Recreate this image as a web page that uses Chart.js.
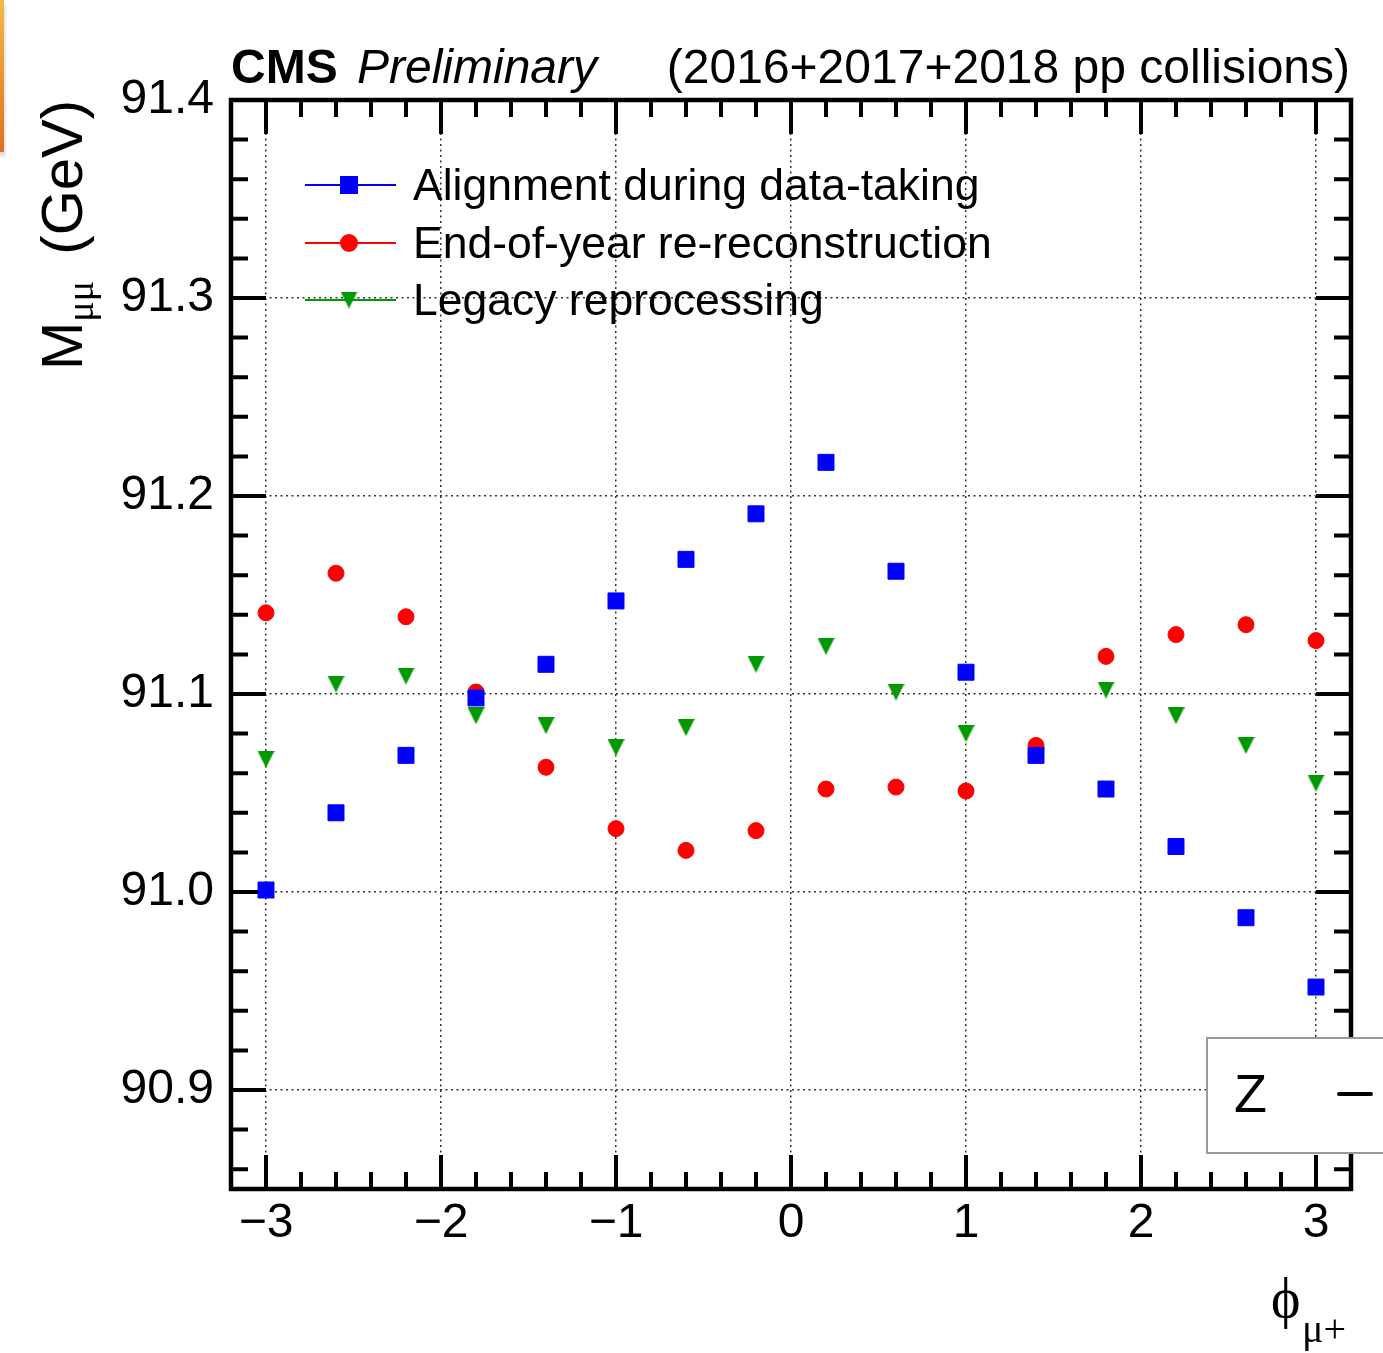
<!DOCTYPE html>
<html>
<head>
<meta charset="utf-8">
<title>Z mass vs phi</title>
<script src="https://cdn.jsdelivr.net/npm/chart.js@4.4.1/dist/chart.umd.min.js"></script>
<style>
  html, body { margin: 0; padding: 0; background: #fff; }
  #wrap { position: relative; width: 1383px; height: 1353px; }
  #massChart { display: block; }
  #edge {
    position: absolute; left: 0; top: 0; width: 4px; height: 152px;
    background: linear-gradient(#f3b94a, #e2701f);
    box-shadow: 0 4px 4px rgba(0, 0, 0, 0.25);
  }
</style>
</head>
<body>
<div id="wrap">
  <canvas id="massChart" width="1383" height="1353"></canvas>
  <div id="edge"></div>
</div>
<script>
// phi of the mu+ (bin centres) and fitted dimuon mass per reconstruction
const phiBins = [-3, -2.6, -2.2, -1.8, -1.4, -1, -0.6, -0.2, 0.2, 0.6, 1, 1.4, 1.8, 2.2, 2.6, 3];
const alignmentDataTaking = [91.001, 91.040, 91.069, 91.098, 91.115, 91.147, 91.168, 91.191,
                             91.217, 91.162, 91.111, 91.069, 91.052, 91.023, 90.987, 90.952];
const endOfYearReReco = [91.141, 91.161, 91.139, 91.101, 91.063, 91.032, 91.021, 91.031,
                         91.052, 91.053, 91.051, 91.074, 91.119, 91.130, 91.135, 91.127];
const legacyReprocessing = [91.067, 91.105, 91.109, 91.089, 91.084, 91.073, 91.083, 91.115,
                            91.124, 91.101, 91.080, 91.069, 91.102, 91.089, 91.074, 91.055];

const seriesLabels = ['Alignment during data-taking', 'End-of-year re-reconstruction', 'Legacy reprocessing'];

const xTickValues = [-3, -2, -1, 0, 1, 2, 3];
const xTickLabels = ['\u22123', '\u22122', '\u22121', '0', '1', '2', '3'];
const yTickValues = [90.9, 91.0, 91.1, 91.2, 91.3, 91.4];
const yTickLabels = ['90.9', '91.0', '91.1', '91.2', '91.3', '91.4'];

const SANS = '"Liberation Sans", Arial, Helvetica, sans-serif';
const SERIF = '"Liberation Serif", "DejaVu Serif", "Times New Roman", serif';

// ROOT-style downward triangle (width == height, centred on the point)
function triangleDown(size, color) {
    const c = document.createElement('canvas');
    c.width = size; c.height = size;
    const g = c.getContext('2d');
    g.fillStyle = color;
    g.beginPath();
    g.moveTo(0, 0);
    g.lineTo(size, 0);
    g.lineTo(size / 2, size);
    g.closePath();
    g.fill();
    return c;
}

const toPoints = (vals) => phiBins.map((x, i) => ({ x: x, y: vals[i] }));

// frame with inward ticks on all four sides
const rootFrame = {
    id: 'rootFrame',
    beforeDatasetsDraw(chart) {
        const { ctx, chartArea: a, scales: { x, y } } = chart;
        ctx.save();
        ctx.strokeStyle = '#000';
        ctx.lineWidth = 4;
        ctx.beginPath();
        for (let k = -16; k <= 16; k++) {
            const px = x.getPixelForValue(k / 5);
            if (px <= a.left + 2 || px >= a.right - 2) continue;
            const len = k % 5 === 0 ? 34 : 17;
            ctx.moveTo(px, a.bottom); ctx.lineTo(px, a.bottom - len);
            ctx.moveTo(px, a.top); ctx.lineTo(px, a.top + len);
        }
        for (let k = 4543; k <= 4570; k++) {
            const py = y.getPixelForValue(k / 50);
            if (py <= a.top + 2 || py >= a.bottom - 2) continue;
            const len = k % 5 === 0 ? 35 : 17;
            ctx.moveTo(a.left, py); ctx.lineTo(a.left + len, py);
            ctx.moveTo(a.right, py); ctx.lineTo(a.right - len, py);
        }
        ctx.stroke();
        ctx.lineWidth = 4.5;
        ctx.strokeRect(a.left, a.top, a.right - a.left, a.bottom - a.top);
        ctx.restore();
    }
};

// legend, titles and the clipped label box
const decorations = {
    id: 'decorations',
    afterDraw(chart) {
        const ctx = chart.ctx;
        ctx.save();

        // legend
        const rows = [185, 243, 300];
        chart.data.datasets.forEach((ds, i) => {
            const yy = rows[i];
            ctx.strokeStyle = ds.borderColor;
            ctx.lineWidth = 2;
            ctx.beginPath();
            ctx.moveTo(305, yy); ctx.lineTo(396, yy);
            ctx.stroke();
            ctx.fillStyle = ds.backgroundColor;
            ctx.strokeStyle = ds.borderColor;
            Chart.helpers.drawPoint(ctx, {
                pointStyle: ds.pointStyle, radius: ds.pointRadius,
                rotation: 0, borderWidth: ds.pointBorderWidth
            }, 349, yy);
            ctx.fillStyle = '#000';
            ctx.font = '44.5px ' + SANS;
            ctx.textAlign = 'left';
            ctx.textBaseline = 'alphabetic';
            ctx.fillText(ds.label, 413, yy + 15);
        });

        // header
        ctx.fillStyle = '#000';
        ctx.textBaseline = 'alphabetic';
        ctx.textAlign = 'left';
        ctx.font = 'bold 48px ' + SANS;
        ctx.fillText('CMS', 231, 83);
        ctx.font = 'italic 48px ' + SANS;
        ctx.fillText('Preliminary', 357, 83);
        ctx.textAlign = 'right';
        ctx.font = '48px ' + SANS;
        ctx.fillText('(2016+2017+2018 pp collisions)', 1350, 83);

        // y title, rotated
        ctx.save();
        ctx.translate(82, 370);
        ctx.rotate(-Math.PI / 2);
        ctx.textAlign = 'left';
        ctx.font = '58px ' + SANS;
        ctx.fillText('M', 0, 0);
        const mW = ctx.measureText('M').width;
        ctx.font = '38px ' + SERIF;
        ctx.fillText('\u03bc\u03bc', mW, 11);
        ctx.font = '58px ' + SANS;
        ctx.textAlign = 'right';
        ctx.fillText('(GeV)', 270, 0);
        ctx.restore();

        // x title
        ctx.textAlign = 'left';
        ctx.font = '56px ' + SERIF;
        ctx.fillText('\u03d5', 1271, 1317);
        ctx.font = '40px ' + SERIF;
        ctx.fillText('\u03bc+', 1302, 1342);

        // label box cut by the right border
        ctx.fillStyle = '#fff';
        ctx.fillRect(1207, 1038, 200, 115);
        ctx.strokeStyle = '#999';
        ctx.lineWidth = 2;
        ctx.strokeRect(1207, 1038, 200, 115);
        ctx.fillStyle = '#000';
        ctx.font = '54px ' + SANS;
        ctx.fillText('Z', 1234, 1112);
        ctx.strokeStyle = '#000';
        ctx.lineWidth = 4;
        ctx.lineCap = 'round';
        ctx.beginPath();
        ctx.moveTo(1339, 1094); ctx.lineTo(1371, 1094);
        ctx.stroke();

        ctx.restore();
    }
};

document.addEventListener('DOMContentLoaded', () => {
    const ctx = document.getElementById('massChart').getContext('2d');
    new Chart(ctx, {
        type: 'scatter',
        data: {
            datasets: [
                {
                    label: seriesLabels[0],
                    data: toPoints(alignmentDataTaking),
                    pointStyle: 'rect',
                    pointRadius: 11.3,
                    pointBorderWidth: 1,
                    borderColor: '#0000ff',
                    backgroundColor: '#0000ff'
                },
                {
                    label: seriesLabels[1],
                    data: toPoints(endOfYearReReco),
                    pointStyle: 'circle',
                    pointRadius: 8,
                    pointBorderWidth: 1,
                    borderColor: '#ff0000',
                    backgroundColor: '#ff0000'
                },
                {
                    label: seriesLabels[2],
                    data: toPoints(legacyReprocessing),
                    pointStyle: triangleDown(17, '#009900'),
                    pointRadius: 8.5,
                    pointBorderWidth: 0,
                    borderColor: '#009900',
                    backgroundColor: '#009900'
                }
            ]
        },
        options: {
            responsive: false,
            animation: false,
            layout: { padding: { top: 100, right: 32, left: 0, bottom: 0 } },
            plugins: {
                legend: { display: false },
                tooltip: { enabled: false }
            },
            scales: {
                x: {
                    type: 'linear',
                    min: -3.2,
                    max: 3.2,
                    afterBuildTicks: (s) => { s.ticks = xTickValues.map(v => ({ value: v })); },
                    afterFit: (s) => { s.height = 164; },
                    ticks: {
                        callback: (v, i) => xTickLabels[i],
                        color: '#000',
                        font: { family: SANS, size: 48 },
                        padding: 6,
                        maxRotation: 0,
                        autoSkip: false
                    },
                    grid: { color: '#333', lineWidth: 1.5, drawTicks: false },
                    border: { display: false, dash: [2, 3.5] }
                },
                y: {
                    type: 'linear',
                    min: 90.85,
                    max: 91.4,
                    afterBuildTicks: (s) => { s.ticks = yTickValues.map(v => ({ value: v })); },
                    afterFit: (s) => { s.width = 231; },
                    ticks: {
                        callback: (v, i) => yTickLabels[i],
                        color: '#000',
                        font: { family: SANS, size: 48 },
                        padding: 17,
                        autoSkip: false
                    },
                    grid: { color: '#333', lineWidth: 1.5, drawTicks: false },
                    border: { display: false, dash: [2, 3.5] }
                }
            }
        },
        plugins: [rootFrame, decorations]
    });
});
</script>
</body>
</html>
